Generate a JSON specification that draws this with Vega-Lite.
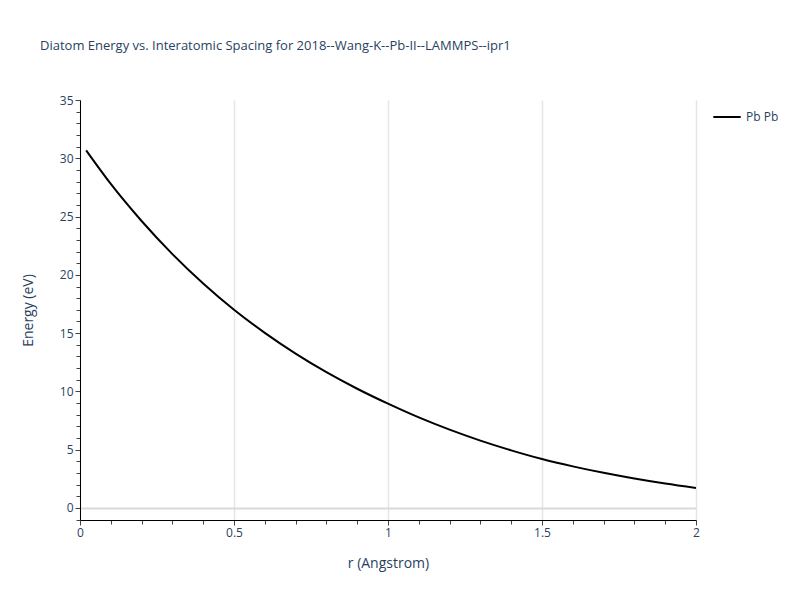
{
  "$schema": "https://vega.github.io/schema/vega-lite/v6.json",
  "autosize": {"type": "none"},
  "width": 616,
  "height": 420,
  "padding": {"left": 80, "top": 100, "right": 104, "bottom": 80},
  "background": "white",
  "title": {
    "text": "Diatom Energy vs. Interatomic Spacing for 2018--Wang-K--Pb-II--LAMMPS--ipr1",
    "anchor": "start",
    "frame": "group",
    "dx": -40,
    "offset": 41,
    "font": "Open Sans",
    "fontSize": 13,
    "fontWeight": "normal",
    "color": "#2a3f5f"
  },
  "config": {
    "view": {"stroke": null},
    "axis": {
      "labelFont": "Open Sans",
      "labelFontSize": 12,
      "labelColor": "#2a3f5f",
      "titleFont": "Open Sans",
      "titleFontSize": 14,
      "titleFontWeight": "normal",
      "titleColor": "#2a3f5f",
      "domainColor": "#000000",
      "domainWidth": 1,
      "tickColor": "#444444"
    },
    "legend": {
      "labelFont": "Open Sans",
      "labelFontSize": 12,
      "labelColor": "#2a3f5f"
    }
  },
  "data": {
    "values": [
      {"r": 0.02, "energy": 30.68, "pair": "Pb Pb"},
      {"r": 0.1, "energy": 27.8, "pair": "Pb Pb"},
      {"r": 0.2, "energy": 24.62, "pair": "Pb Pb"},
      {"r": 0.3, "energy": 21.78, "pair": "Pb Pb"},
      {"r": 0.4, "energy": 19.25, "pair": "Pb Pb"},
      {"r": 0.5, "energy": 17.0, "pair": "Pb Pb"},
      {"r": 0.6, "energy": 15.02, "pair": "Pb Pb"},
      {"r": 0.7, "energy": 13.24, "pair": "Pb Pb"},
      {"r": 0.8, "energy": 11.65, "pair": "Pb Pb"},
      {"r": 0.9, "energy": 10.23, "pair": "Pb Pb"},
      {"r": 1.0, "energy": 8.95, "pair": "Pb Pb"},
      {"r": 1.1, "energy": 7.77, "pair": "Pb Pb"},
      {"r": 1.2, "energy": 6.72, "pair": "Pb Pb"},
      {"r": 1.3, "energy": 5.78, "pair": "Pb Pb"},
      {"r": 1.4, "energy": 4.945, "pair": "Pb Pb"},
      {"r": 1.5, "energy": 4.2, "pair": "Pb Pb"},
      {"r": 1.6, "energy": 3.57, "pair": "Pb Pb"},
      {"r": 1.7, "energy": 3.015, "pair": "Pb Pb"},
      {"r": 1.8, "energy": 2.525, "pair": "Pb Pb"},
      {"r": 1.9, "energy": 2.092, "pair": "Pb Pb"},
      {"r": 2.0, "energy": 1.71, "pair": "Pb Pb"}
    ]
  },
  "mark": {"type": "line", "strokeWidth": 2, "interpolate": "monotone", "clip": true},
  "encoding": {
    "x": {
      "field": "r",
      "type": "quantitative",
      "scale": {"domain": [0, 2], "nice": false, "zero": false},
      "axis": {
        "title": "r (Angstrom)",
        "titlePadding": 18,
        "values": [0, 0.1, 0.2, 0.3, 0.4, 0.5, 0.6, 0.7, 0.8, 0.9, 1, 1.1, 1.2, 1.3, 1.4, 1.5, 1.6, 1.7, 1.8, 1.9, 2],
        "labelExpr": "abs(datum.value * 2 - round(datum.value * 2)) < 0.000001 ? format(datum.value, '~g') : ''",
        "tickSize": {"condition": {"test": "abs(datum.value * 2 - round(datum.value * 2)) < 0.000001", "value": 5}, "value": 4},
        "labelPadding": 2,
        "grid": true,
        "gridColor": {"condition": {"test": "abs(datum.value * 2 - round(datum.value * 2)) < 0.000001", "value": "#e5e5e5"}, "value": "transparent"},
        "gridWidth": 1.5,
        "labelFlush": false,
        "labelOverlap": false
      }
    },
    "y": {
      "field": "energy",
      "type": "quantitative",
      "scale": {"domain": [-1.03, 35], "nice": false, "zero": false},
      "axis": {
        "title": "Energy (eV)",
        "titlePadding": 24,
        "values": [-1, 0, 1, 2, 3, 4, 5, 6, 7, 8, 9, 10, 11, 12, 13, 14, 15, 16, 17, 18, 19, 20, 21, 22, 23, 24, 25, 26, 27, 28, 29, 30, 31, 32, 33, 34, 35],
        "labelExpr": "datum.value % 5 === 0 ? format(datum.value, 'd') : ''",
        "tickSize": {"condition": {"test": "datum.value % 5 === 0", "value": 5}, "value": 4},
        "labelPadding": 2,
        "grid": true,
        "gridColor": {"condition": {"test": "datum.value === 0", "value": "#d9d9d9"}, "value": {"condition": {"test": "datum.value % 5 === 0", "value": "#e5e5e5"}, "value": "transparent"}},
        "gridWidth": {"condition": {"test": "datum.value === 0", "value": 2}, "value": 1},
        "labelOverlap": false
      }
    },
    "color": {
      "field": "pair",
      "type": "nominal",
      "scale": {"range": ["#000000"]},
      "legend": {
        "title": null,
        "orient": "none",
        "legendX": 632,
        "legendY": 2,
        "symbolType": "stroke",
        "symbolSize": 750,
        "symbolStrokeWidth": 2
      }
    }
  }
}
